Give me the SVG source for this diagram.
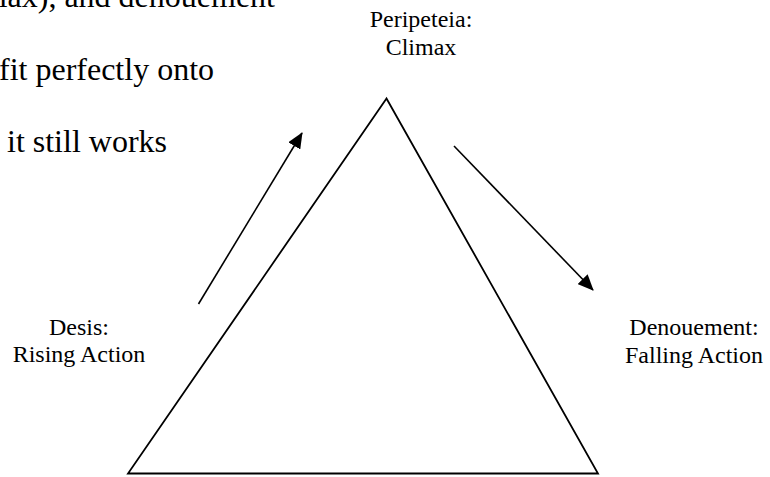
<svg xmlns="http://www.w3.org/2000/svg" width="770" height="477" viewBox="0 0 770 477">
  <style>
    .body { font-family: "Liberation Serif", "Times New Roman", serif; font-size: 32px; fill: #000; }
    .lbl { font-family: "Liberation Serif", "Times New Roman", serif; font-size: 24px; fill: #000; text-anchor: middle; }
    .edge { stroke: #000; stroke-width: 1.6; fill: none; }
  </style>
  <defs>
    <marker id="ah" markerUnits="userSpaceOnUse" markerWidth="16" markerHeight="14" refX="15" refY="7" orient="auto">
      <path d="M0,0 L16,7 L0,14 z" fill="#000"/>
    </marker>
  </defs>
  <rect width="770" height="477" fill="#fff"/>
  <g id="body-text">
    <text class="body" x="275" y="7" text-anchor="end">lax), and denouement</text>
    <text class="body" x="-1" y="80">fit perfectly onto</text>
    <text class="body" x="167" y="152" text-anchor="end">it still works</text>
  </g>
  <g id="triangle">
    <polygon points="386.5,98.5 128,473.5 598,473.5" fill="none" stroke="#000" stroke-width="1.8" stroke-linejoin="miter"/>
  </g>
  <g id="climax">
    <text class="lbl" x="421" y="27">Peripeteia:</text>
    <text class="lbl" x="421" y="55">Climax</text>
  </g>
  <g id="rising">
    <text class="lbl" x="79" y="335">Desis:</text>
    <text class="lbl" x="79" y="362">Rising Action</text>
  </g>
  <g id="falling">
    <text class="lbl" x="694" y="335">Denouement:</text>
    <text class="lbl" x="694" y="363">Falling Action</text>
  </g>
  <g id="connectors">
    <line class="edge" x1="198.5" y1="304" x2="302" y2="133" marker-end="url(#ah)"/>
    <line class="edge" x1="454" y1="146" x2="593" y2="290" marker-end="url(#ah)"/>
  </g>
</svg>
